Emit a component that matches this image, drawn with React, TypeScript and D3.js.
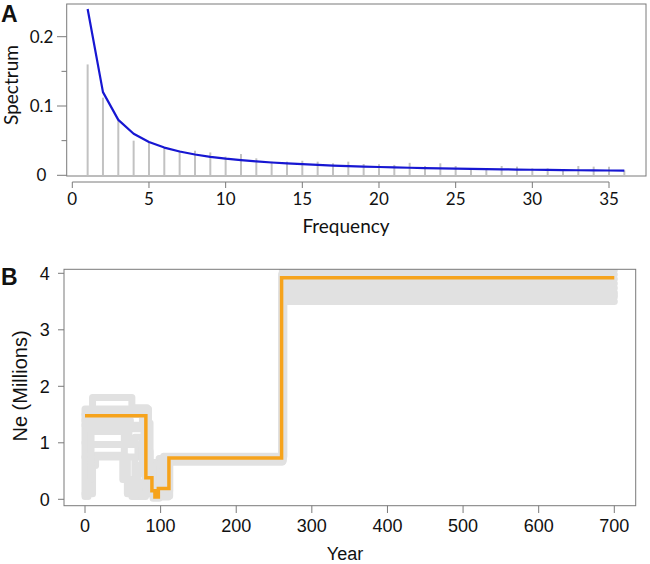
import React from 'react';
import * as d3 from 'd3';

// ---------- Panel A data ----------
const frequency = [1,2,3,4,5,6,7,8,9,10,11,12,13,14,15,16,17,18,19,20,21,22,23,24,25,26,27,28,29,30,31,32,33,34,35,36];
const observedSpectrum = [0.160,0.112,0.079,0.050,0.0485,0.040,0.0355,0.0355,0.033,0.027,0.0307,0.0245,0.0197,0.0197,0.021,0.0197,0.0173,0.0197,0.0163,0.016,0.015,0.018,0.0134,0.0173,0.0134,0.010,0.010,0.0134,0.0125,0.010,0.010,0.0087,0.0134,0.0125,0.0125,0.007];
const expectedSpectrum = [0.24,0.12,0.08,0.06,0.048,0.04,0.0343,0.03,0.0267,0.024,0.0218,0.02,0.0185,0.0171,0.016,0.015,0.0141,0.0133,0.0126,0.012,0.0114,0.0109,0.0104,0.01,0.0096,0.0092,0.0089,0.0086,0.0083,0.008,0.0077,0.0075,0.0073,0.0071,0.0069,0.0067];
const freqTicks = [0,5,10,15,20,25,30,35];
const spectrumTicks = [0,0.1,0.2];
const spectrumMinorTicks = [0.05,0.15];

// ---------- Panel B data ----------
const bestNe: [number, number][] = [[0,1.48],[80.5,0.38],[88.5,0.15],[92.5,0.04],[97,0.19],[111,0.73],[260,3.92],[700,3.92]];
const sampledNe: [number, number][][] = [
  [[10,1.55],[10,1.8],[62,1.62],[82,0.5],[88,0.1],[100,0.7],[261,3.5],[700,3.5]],
  [[0,0.05],[0,1.6],[84,0.3],[92,0.04],[110,0.74],[262,3.58],[700,3.58]],
  [[0,1.5],[76,1.35],[86,0.65],[95,0.15],[112,0.66],[260,3.66],[700,3.66]],
  [[0,1.4],[60,1.25],[80,0.2],[96,0.08],[104,0.76],[263,3.74],[700,3.74]],
  [[0,1.0],[2,1.22],[58,0.97],[70,0.75],[84,0.4],[90,0.02],[98,0.72],[261,3.82],[700,3.82]],
  [[0,0.75],[66,0.3],[78,0.1],[100,0.68],[262,3.9],[700,3.9]],
  [[4,0.05],[4,0.97],[66,1.1],[76,0.45],[88,0.22],[108,0.7],[260,3.98],[700,3.98]],
  [[0,0.1],[10,0.6],[14,0.78],[50,0.35],[62,0.05],[80,0.15],[103,0.66],[261,4.06],[700,4.06]],
  [[8,0.35],[8,1.2],[52,0.75],[56,0.1],[70,0.6],[90,0.06],[112,0.72],[262,4.14],[700,4.14]],
  [[0,1.31],[78,0.85],[86,0.25],[94,0.12],[106,0.69],[262,3.62],[700,3.62]],
];
const yearTicks = [0,100,200,300,400,500,600,700];
const neTicks = [0,1,2,3,4];

export default function App() {
  // Panel A scales
  const xA = d3.scaleLinear().domain([0, 35]).range([72.3, 609]);
  const yA = d3.scaleLinear().domain([0, 0.2]).range([175.3, 36.7]);
  const boxA = { x0: 66.7, x1: 646, y0: 4, y1: 176 };
  const fontA = 'Lato, "Open Sans", sans-serif';

  const blueLine = d3.line<number>()
    .x((_, i) => xA(frequency[i]))
    .y((d) => yA(d))(expectedSpectrum) as string;

  // Panel B scales
  const xB = d3.scaleLinear().domain([0, 700]).range([85, 614.3]);
  const yB = d3.scaleLinear().domain([0, 4]).range([499.3, 273.3]);
  const boxB = { x0: 64, x1: 635.7, y0: 269.3, y1: 505.7 };
  const fontB = '"Liberation Sans", Arial, sans-serif';
  const step = d3.line<[number, number]>()
    .x((d) => xB(d[0]))
    .y((d) => yB(d[1]))
    .curve(d3.curveStepAfter);

  const axisGrey = '#7a7a7a';

  return (
    <svg width={650} height={564} style={{ position: 'absolute', left: 0, top: 0, background: '#fff' }}>
      <rect x={0} y={0} width={650} height={564} fill="#fff" />
      {/* ================= Panel A ================= */}
      <text x={1} y={21.5} fontFamily={fontB} fontWeight="bold" fontSize={23} fill="#111">A</text>
      <rect x={boxA.x0} y={boxA.y0} width={boxA.x1 - boxA.x0} height={boxA.y1 - boxA.y0} fill="none" stroke={axisGrey} strokeWidth={1} />
      {frequency.map((f, i) => (
        <line key={'b' + f} x1={xA(f)} x2={xA(f)} y1={yA(0)} y2={yA(observedSpectrum[i])} stroke="#c2c2c2" strokeWidth={2} />
      ))}
      <path d={blueLine} fill="none" stroke="#1717d2" strokeWidth={2.2} strokeLinejoin="round" />
      {/* y axis */}
      {spectrumTicks.map((t) => (
        <g key={'ya' + t}>
          <line x1={57} x2={boxA.x0} y1={yA(t)} y2={yA(t)} stroke={axisGrey} strokeWidth={1} />
          <text x={41.5} y={yA(t)} dy="0.36em" textAnchor="middle" fontFamily={fontA} fontSize={17} fill="#111">{t === 0 ? '0' : String(t)}</text>
        </g>
      ))}
      {spectrumMinorTicks.map((t) => (
        <line key={'ym' + t} x1={61.5} x2={boxA.x0} y1={yA(t)} y2={yA(t)} stroke={axisGrey} strokeWidth={1} />
      ))}
      <text transform={`translate(18,85) rotate(-90)`} textAnchor="middle" fontFamily={fontA} fontSize={19} fill="#111">Spectrum</text>
      {/* x axis */}
      <line x1={xA(0)} x2={xA(35)} y1={182} y2={182} stroke={axisGrey} strokeWidth={1} />
      {freqTicks.map((t) => (
        <g key={'xa' + t}>
          <line x1={xA(t)} x2={xA(t)} y1={182} y2={188} stroke={axisGrey} strokeWidth={1} />
          <text x={xA(t)} y={205} textAnchor="middle" fontFamily={fontA} fontSize={17} fill="#111">{t}</text>
        </g>
      ))}
      <text x={346} y={233} textAnchor="middle" fontFamily={fontA} fontSize={19} fill="#111">Frequency</text>

      {/* ================= Panel B ================= */}
      <text x={1} y={285} fontFamily={fontB} fontWeight="bold" fontSize={23} fill="#111">B</text>
      <defs>
        <clipPath id="clipB">
          <rect x={boxB.x0} y={boxB.y0} width={boxB.x1 - boxB.x0} height={boxB.y1 - boxB.y0} />
        </clipPath>
      </defs>
      <g clipPath="url(#clipB)">
        {sampledNe.map((tr, i) => (
          <path key={'g' + i} d={step(tr) as string} fill="none" stroke="#e1e1e1" strokeWidth={7} strokeLinecap="round" strokeLinejoin="round" />
        ))}
        <path d={step(bestNe) as string} fill="none" stroke="#f6a31c" strokeWidth={3.5} strokeLinejoin="miter" />
      </g>
      <rect x={boxB.x0} y={boxB.y0} width={boxB.x1 - boxB.x0} height={boxB.y1 - boxB.y0} fill="none" stroke={axisGrey} strokeWidth={1} />
      {neTicks.map((t) => (
        <g key={'yb' + t}>
          <line x1={58} x2={boxB.x0} y1={yB(t)} y2={yB(t)} stroke={axisGrey} strokeWidth={1} />
          <text x={44.7} y={yB(t)} dy="0.36em" textAnchor="middle" fontFamily={fontB} fontSize={18} fill="#111">{t}</text>
        </g>
      ))}
      <text transform={`translate(27,386) rotate(-90)`} textAnchor="middle" fontFamily={fontB} fontSize={20} fill="#111">Ne (Millions)</text>
      {yearTicks.map((t) => (
        <g key={'xb' + t}>
          <line x1={xB(t)} x2={xB(t)} y1={boxB.y1} y2={513} stroke={axisGrey} strokeWidth={1} />
          <text x={xB(t)} y={531.5} textAnchor="middle" fontFamily={fontB} fontSize={18} fill="#111">{t}</text>
        </g>
      ))}
      <text x={345} y={559.5} textAnchor="middle" fontFamily={fontB} fontSize={18} fill="#111">Year</text>
    </svg>
  );
}
